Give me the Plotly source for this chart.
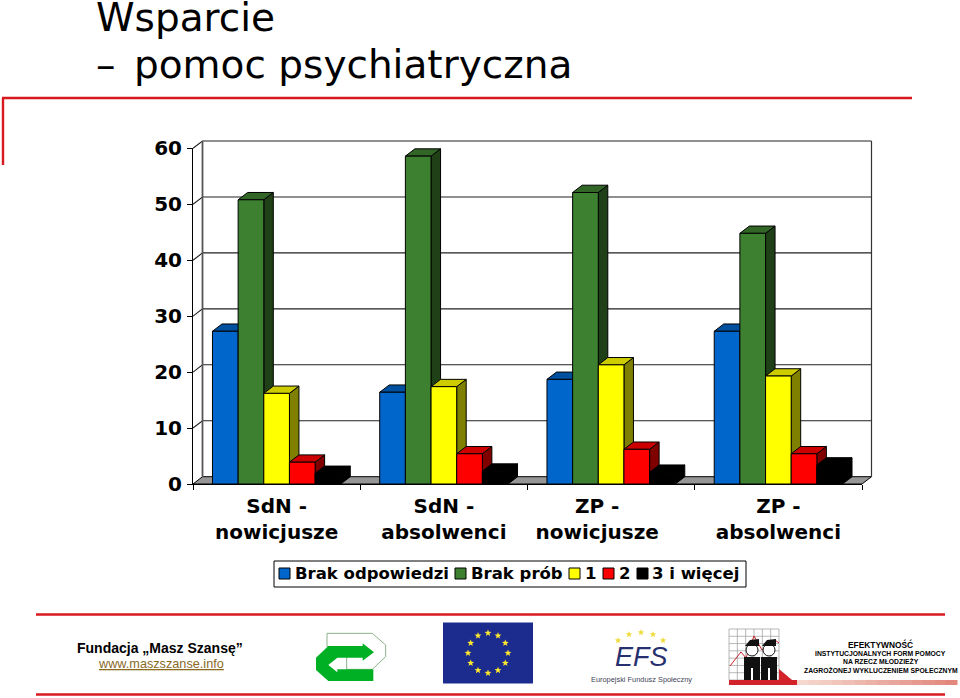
import math
import plotly.graph_objects as go

# ---------- data ----------
NB = "\u00a0\u00a0\u00a0\u00a0"  # the reference's third label sits left of its slot
categories = ["SdN -<br>nowicjusze", "SdN -<br>absolwenci", f"ZP -{NB}<br>nowicjusze{NB}", "ZP -<br>absolwenci"]
brak_odpowiedzi = [27.3, 16.4, 18.7, 27.3]
brak_prob = [50.8, 58.6, 52.1, 44.8]
jeden = [16.2, 17.4, 21.3, 19.3]
dwa = [3.9, 5.4, 6.2, 5.4]
trzy_i_wiecej = [1.9, 2.3, 2.1, 3.4]
series_names = ["Brak odpowiedzi", "Brak prób", "1", "2", "3 i więcej"]
series_values = [brak_odpowiedzi, brak_prob, jeden, dwa, trzy_i_wiecej]
y_ticks = [0, 10, 20, 30, 40, 50, 60]

# ---------- styles ----------
W, H = 960, 698
front = ["#0066CC", "#3D8030", "#FFFF00", "#FF0000", "#000000"]
tops = ["#0050A0", "#316626", "#CCCC00", "#CC0000", "#000000"]
sides = ["#003366", "#204018", "#808000", "#800000", "#000000"]
PLOT_L, PLOT_R, PLOT_T, PLOT_B = 193, 862, 148.3, 484
BARGAP = 0.233
UX = (PLOT_R - PLOT_L) / 4
UY = (PLOT_B - PLOT_T) / 60
DX = 9.5 / UX
DY = 7.3 / UY
EXT_X, EXT_Y = 12, 10
BOLD = "DejaVu Sans"


def px(x):
    return x / W


def py(y):
    return 1 - y / H


def path(points):
    return "M" + " L".join(f"{px(x):.5f} {py(y):.5f}" for x, y in points) + " Z"


fig = go.Figure()
common = dict(mode="lines", hoverinfo="skip", showlegend=False)

# back wall, floor, gridlines
x0, x1 = -0.5, len(categories) - 0.5
fig.add_trace(go.Scatter(x=[x0, x0 + DX, x1 + DX, x1, x0], y=[0, DY, DY, 0, 0], fill="toself",
                         fillcolor="#969696", line=dict(color="#000", width=1), **common))
gx, gy = [], []
for t in y_ticks[1:]:
    gx += [x0, x0 + DX, x1 + DX, None]
    gy += [t, t + DY, t + DY, None]
fig.add_trace(go.Scatter(x=gx, y=gy, line=dict(color="#222", width=1.1), **common))
fig.add_trace(go.Scatter(x=[x0 + DX, x0 + DX], y=[DY, y_ticks[-1] + DY], line=dict(color="#555", width=1.8), **common))
fig.add_trace(go.Scatter(x=[x1 + DX, x1 + DX], y=[DY, y_ticks[-1] + DY], line=dict(color="#333", width=1.2), **common))

# 3-D side and top faces, derived from the values
n = len(series_values)
bw = (1 - BARGAP) / n
for j, vals in enumerate(series_values):
    sx, sy, tx, ty = [], [], [], []
    for i, v in enumerate(vals):
        xl = i - (1 - BARGAP) / 2 + j * bw
        xr = xl + bw
        sx += [xr, xr + DX, xr + DX, xr, xr, None]
        sy += [0, DY, v + DY, v, 0, None]
        tx += [xl, xl + DX, xr + DX, xr, xl, None]
        ty += [v, v + DY, v + DY, v, v, None]
    fig.add_trace(go.Scatter(x=sx, y=sy, fill="toself", fillcolor=sides[j],
                             line=dict(color="#000", width=1), **common))
    fig.add_trace(go.Scatter(x=tx, y=ty, fill="toself", fillcolor=tops[j],
                             line=dict(color="#000", width=1), **common))

# front faces
for j, vals in enumerate(series_values):
    fig.add_trace(go.Bar(x=categories, y=vals, name=series_names[j], xaxis="x2", yaxis="y2",
                         marker=dict(color=front[j], line=dict(color="#000", width=1)),
                         showlegend=False))

shapes, ann = [], []


def red_line(a, b, c, d, w=2.4, col="#D8191F"):
    shapes.append(dict(type="line", xref="paper", yref="paper", x0=px(a), y0=py(b), x1=px(c), y1=py(d),
                       line=dict(color=col, width=w)))


def text(x, y, s, size, family="Liberation Sans", color="#000", anchor="center", bold=False):
    ann.append(dict(xref="paper", yref="paper", x=px(x), y=py(y), text=f"<b>{s}</b>" if bold else s,
                    showarrow=False, xanchor=anchor, yanchor="middle", align=anchor,
                    font=dict(family=family, size=size, color=color), borderpad=0))


def poly(points, fill, line=None, lw=1):
    shapes.append(dict(type="path", xref="paper", yref="paper", path=path(points), fillcolor=fill,
                       line=dict(color=line or fill, width=lw if line else 0)))


def rect(a, b, c, d, fill, line=None, lw=1):
    shapes.append(dict(type="rect", xref="paper", yref="paper", x0=px(a), y0=py(b), x1=px(c), y1=py(d),
                       fillcolor=fill, line=dict(color=line or fill, width=lw if line else 0)))


def star(cx, cy, r, fill):
    pts = []
    for k in range(10):
        rr = r if k % 2 == 0 else r * 0.42
        ang = -math.pi / 2 + k * math.pi / 5
        pts.append((cx + rr * math.cos(ang), cy + rr * math.sin(ang)))
    poly(pts, fill)


# title and frame
text(95, 18, "Wsparcie", 39, "DejaVu Sans", anchor="left")
text(95, 64, "–", 39, "DejaVu Sans", anchor="left")
text(133, 64, "pomoc psychiatryczna", 39, "DejaVu Sans", anchor="left")
red_line(2, 98, 912, 98)
red_line(3, 98, 3, 165)
red_line(36, 614.5, 945, 614.5)
red_line(36, 694.5, 945, 694.5)

# custom compact legend
rect(274, 561, 746, 587, "#FFFFFF", "#000000", 1)
legend_swatch_x = [279, 455, 569, 603, 637]
legend_text_x = [293.5, 469.5, 583.5, 617.5, 650.5]
for k, name in enumerate(series_names):
    rect(legend_swatch_x[k], 568, legend_swatch_x[k] + 11, 579, front[k], "#000000", 1)
    text(legend_text_x[k], 573.5, name, 16.5, BOLD, anchor="left", bold=True)

# footer text
text(160, 648, "Fundacja „Masz Szansę”", 14, bold=True)
text(160.5, 664, "<u>www.maszszanse.info</u>", 12.7, color="#8A6A1F")

# arrow logo
Z = lambda pts: [(x / 3, 610 + y / 3) for x, y in pts]
poly(Z([(981, 110), (981, 70), (1117, 70), (1157, 105), (1157, 140), (1117, 178), (1040, 178), (1040, 110)]),
     "#FFFFFF", "#8DB08D", 1)
poly(Z([(948, 143), (985, 108), (1088, 108), (1088, 100), (1122, 127), (1088, 152), (1088, 143), (1012, 143),
        (985, 165), (1012, 187), (1012, 178), (1120, 178), (1120, 213), (985, 213), (948, 180)]), "#00B024")

# EU flag
rect(443, 622.5, 533, 683.5, "#1C2C8E")
for k in range(12):
    a = k * math.pi / 6
    star(488 + 20 * math.cos(a), 653 + 20 * math.sin(a), 3.6, "#FFE92E")

# EFS logo
for sx_, sy_ in [(618, 640.5), (629, 634.5), (641, 632.5), (653, 634.5), (663, 640.5)]:
    star(sx_, sy_, 3.4, "#F0DC3C")
text(641, 657, "<i>EFS</i>", 27, "Liberation Sans", "#27306F", bold=False)
text(641, 679, "Europejski Fundusz Społeczny", 7.4, "Liberation Sans", "#3F4458")

# Efficiency logo
for k in range(7):
    xx = 729 + k * 50 / 6
    shapes.append(dict(type="line", xref="paper", yref="paper", x0=px(xx), x1=px(xx), y0=py(629), y1=py(680),
                       line=dict(color="#9A9A9A", width=0.7)))
for k in range(8):
    yy = 629 + k * 51 / 7
    shapes.append(dict(type="line", xref="paper", yref="paper", x0=px(729), x1=px(779), y0=py(yy), y1=py(yy),
                       line=dict(color="#9A9A9A", width=0.7)))
shapes.append(dict(type="path", xref="paper", yref="paper",
                   path="M" + " L".join(f"{px(a):.5f} {py(b):.5f}" for a, b in
                                        [(730, 666), (741, 652), (746, 658), (754, 636), (762, 650), (775, 640), (779, 643)]),
                   line=dict(color="#C9232A", width=1)))
for cx in (752, 769):
    rect(cx - 8, 657, cx + 8, 680, "#111111")
    rect(cx - 1, 668, cx + 1, 680, "#FFFFFF")
    shapes.append(dict(type="circle", xref="paper", yref="paper", x0=px(cx - 6), x1=px(cx + 6), y0=py(656), y1=py(644),
                       fillcolor="#FFFFFF", line=dict(color="#111", width=1)))
    poly([(cx - 7, 646), (cx - 2, 640), (cx + 7, 639), (cx + 7, 646)], "#111111")
rect(729, 680, 798, 685, "#D2232A")
poly([(779, 669), (798, 685), (779, 685)], "#D2232A")
steps = 14
for k in range(steps):
    t_ = k / (steps - 1)
    col = f"rgb({round(245 - 20 * t_)},{round(215 - 80 * t_)},{round(205 - 80 * t_)})"
    rect(797 + k * 160 / steps, 680, 797 + (k + 1) * 160 / steps + 0.5, 685, col)
text(880.5, 644, "EFEKTYWNOŚĆ", 8.4, bold=True)
text(880.5, 653, "INSTYTUCJONALNYCH FORM POMOCY", 6.8, bold=True)
text(880.5, 661, "NA RZECZ MŁODZIEŻY", 6.8, bold=True)
text(880.5, 670, "ZAGROŻONEJ WYKLUCZENIEM SPOŁECZNYM", 6.8, bold=True)

fig.update_layout(
    width=W, height=H, autosize=False, margin=dict(l=0, r=0, t=0, b=0),
    paper_bgcolor="#FFFFFF", plot_bgcolor="rgba(0,0,0,0)",
    barmode="group", bargap=BARGAP, bargroupgap=0, showlegend=False,
    shapes=shapes, annotations=ann,
    xaxis=dict(domain=[PLOT_L / W, (PLOT_R + EXT_X) / W], range=[x0, x1 + EXT_X / UX], visible=False,
               fixedrange=True, automargin=False),
    yaxis=dict(domain=[1 - PLOT_B / H, 1 - (PLOT_T - EXT_Y) / H], range=[0, 60 + EXT_Y / UY], visible=False,
               fixedrange=True, automargin=False),
    xaxis2=dict(domain=[PLOT_L / W, PLOT_R / W], anchor="y2", type="category", categoryorder="array",
                categoryarray=categories, range=[x0, x1], tickson="boundaries", ticks="outside", ticklen=5,
                tickcolor="#000", showline=True, linecolor="#000", linewidth=1, showgrid=False, tickangle=0,
                automargin=False, ticklabelstandoff=4,
                tickfont=dict(family=BOLD, size=20, color="#000", weight="bold"), fixedrange=True),
    yaxis2=dict(domain=[1 - PLOT_B / H, 1 - PLOT_T / H], anchor="x2", range=[0, 60], tickvals=y_ticks,
                ticks="outside", ticklen=5, tickcolor="#000", showline=True, linecolor="#000", linewidth=1,
                showgrid=False, zeroline=False, ticklabelstandoff=1, automargin=False,
                tickfont=dict(family=BOLD, size=20, color="#000", weight="bold"), fixedrange=True),
)

fig.write_html("out.html", config={"displayModeBar": False},
               post_script="document.body.style.margin='0';document.body.style.overflow='hidden';")
